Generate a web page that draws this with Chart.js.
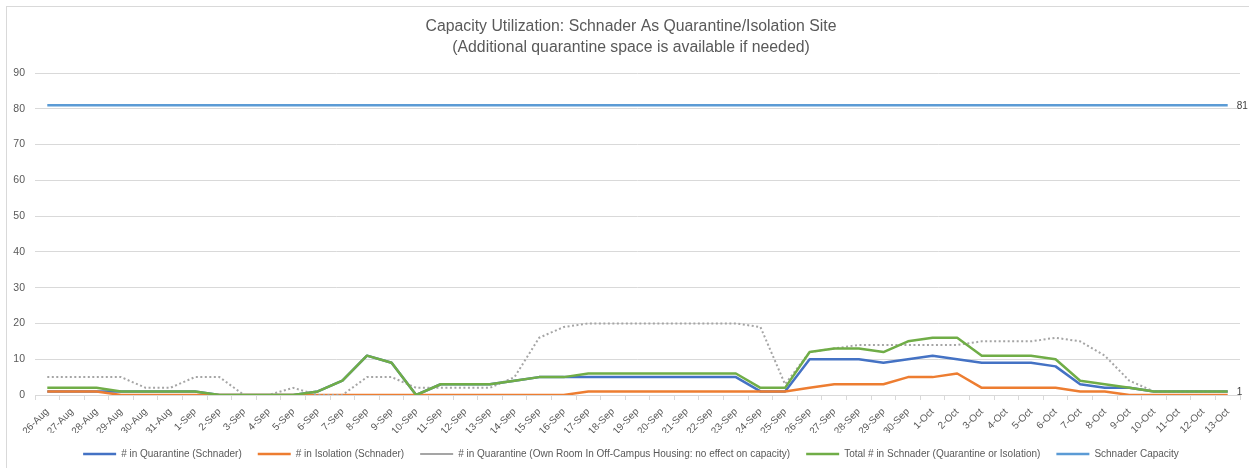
<!DOCTYPE html>
<html>
<head>
<meta charset="utf-8">
<script src="https://cdn.jsdelivr.net/npm/chart.js@4.4.0/dist/chart.umd.min.js"></script>
<style>
  body { margin: 0; background: #fff; }
  #wrap { width: 1249px; height: 468px; }
</style>
</head>
<body>
<div id="wrap"><canvas id="chart" width="1249" height="468"></canvas></div>
<script>
'use strict';

// categories (dates)
let days = [
  '26-Aug', '27-Aug', '28-Aug', '29-Aug', '30-Aug', '31-Aug',
  '1-Sep', '2-Sep', '3-Sep', '4-Sep', '5-Sep', '6-Sep', '7-Sep', '8-Sep', '9-Sep', '10-Sep',
  '11-Sep', '12-Sep', '13-Sep', '14-Sep', '15-Sep', '16-Sep', '17-Sep', '18-Sep', '19-Sep', '20-Sep',
  '21-Sep', '22-Sep', '23-Sep', '24-Sep', '25-Sep', '26-Sep', '27-Sep', '28-Sep', '29-Sep', '30-Sep',
  '1-Oct', '2-Oct', '3-Oct', '4-Oct', '5-Oct', '6-Oct', '7-Oct', '8-Oct', '9-Oct', '10-Oct',
  '11-Oct', '12-Oct', '13-Oct'
];

// series
let quarantine = [1, 1, 1, 1, 1, 1, 1, 0, 0, 0, 0, 1, 4, 11, 9, 0, 3, 3, 3, 4, 5, 5, 5, 5, 5, 5, 5, 5, 5, 1, 1, 10, 10, 10, 9, 10, 11, 10, 9, 9, 9, 8, 3, 2, 2, 1, 1, 1, 1];
let isolation = [1, 1, 1, 0, 0, 0, 0, 0, 0, 0, 0, 0, 0, 0, 0, 0, 0, 0, 0, 0, 0, 0, 1, 1, 1, 1, 1, 1, 1, 1, 1, 2, 3, 3, 3, 5, 5, 6, 2, 2, 2, 2, 1, 1, 0, 0, 0, 0, 0];
let offCampus = [5, 5, 5, 5, 2, 2, 5, 5, 0, 0, 2, 0, 0, 5, 5, 2, 2, 2, 2, 5, 16, 19, 20, 20, 20, 20, 20, 20, 20, 19, 3, 12, 13, 14, 14, 14, 14, 14, 15, 15, 15, 16, 15, 11, 4, 1, 1, 1, 1];
let total = [2, 2, 2, 1, 1, 1, 1, 0, 0, 0, 0, 1, 4, 11, 9, 0, 3, 3, 3, 4, 5, 5, 6, 6, 6, 6, 6, 6, 6, 2, 2, 12, 13, 13, 12, 15, 16, 16, 11, 11, 11, 10, 4, 3, 2, 1, 1, 1, 1];
let capacity = [81, 81, 81, 81, 81, 81, 81, 81, 81, 81, 81, 81, 81, 81, 81, 81, 81, 81, 81, 81, 81, 81, 81, 81, 81, 81, 81, 81, 81, 81, 81, 81, 81, 81, 81, 81, 81, 81, 81, 81, 81, 81, 81, 81, 81, 81, 81, 81, 81];

// axis ticks
let yMin = 0;
let yMax = 90;
let yStep = 10;

let fontFamily = "'Liberation Sans', Arial, sans-serif";
let grey = '#595959';
let gridGrey = '#d9d9d9';

// white background + thin chart frame
let framePlugin = {
  id: 'frame',
  beforeDraw(chart) {
    let ctx = chart.ctx;
    ctx.save();
    ctx.fillStyle = '#fff';
    ctx.fillRect(0, 0, chart.width, chart.height);
    ctx.strokeStyle = gridGrey;
    ctx.lineWidth = 1;
    ctx.strokeRect(6.5, 6.5, chart.width + 20, chart.height + 20);
    ctx.restore();
  }
};

// title and legend sit a little right of centre in the original
let nudgePlugin = {
  id: 'nudge',
  afterLayout(chart) {
    [chart.legend, chart.titleBlock].forEach((box) => {
      if (!box) return;
      box.left += 8;
      box.right += 8;
    });
  }
};

// value label at the last point of some series
let endLabelPlugin = {
  id: 'endLabel',
  afterDatasetsDraw(chart) {
    let ctx = chart.ctx;
    ctx.save();
    ctx.font = '10px ' + fontFamily;
    ctx.fillStyle = '#404040';
    ctx.textBaseline = 'middle';
    ctx.textAlign = 'left';
    chart.data.datasets.forEach((ds, i) => {
      if (!ds.endLabel) return;
      let meta = chart.getDatasetMeta(i);
      let last = meta.data[meta.data.length - 1];
      ctx.fillText(String(ds.data[ds.data.length - 1]), last.x + 9, last.y + 1);
    });
    ctx.restore();
  }
};

let data = {
  labels: days,
  datasets: [
    {
      label: '# in Quarantine (Schnader)',
      data: quarantine,
      borderColor: '#4472C4',
      backgroundColor: '#4472C4',
      borderWidth: 2.5,
      order: 5
    },
    {
      label: '# in Isolation (Schnader)',
      data: isolation,
      borderColor: '#ED7D31',
      backgroundColor: '#ED7D31',
      borderWidth: 2.5,
      order: 4
    },
    {
      label: '# in Quarantine (Own Room In Off-Campus Housing: no effect on capacity)',
      data: offCampus,
      borderColor: '#A5A5A5',
      backgroundColor: '#A5A5A5',
      borderWidth: 2,
      borderDash: [2, 2.5],
      order: 3
    },
    {
      label: 'Total # in Schnader (Quarantine or Isolation)',
      data: total,
      borderColor: '#70AD47',
      backgroundColor: '#70AD47',
      borderWidth: 2.5,
      endLabel: true,
      order: 2
    },
    {
      label: 'Schnader Capacity',
      data: capacity,
      borderColor: '#5B9BD5',
      backgroundColor: '#5B9BD5',
      borderWidth: 2.5,
      endLabel: true,
      order: 1
    }
  ]
};

let config = {
  type: 'line',
  data: data,
  plugins: [framePlugin, nudgePlugin, endLabelPlugin],
  options: {
    responsive: false,
    animation: false,
    layout: { padding: { left: 6, right: 9, top: 0, bottom: -1 } },
    elements: {
      point: { radius: 0, hoverRadius: 0 },
      line: { borderCapStyle: 'butt', borderJoinStyle: 'round' }
    },
    plugins: {
      tooltip: { enabled: false },
      title: {
        display: true,
        text: ['Capacity Utilization: Schnader As Quarantine/Isolation Site', '(Additional quarantine space is available if needed)'],
        color: grey,
        font: { family: fontFamily, size: 15.8, weight: 'normal', lineHeight: 1.33 },
        padding: { top: 16, bottom: 15 }
      },
      legend: {
        position: 'bottom',
        labels: {
          usePointStyle: true,
          pointStyle: 'line',
          pointStyleWidth: 33,
          padding: 16,
          color: grey,
          font: { family: fontFamily, size: 10 },
          sort: (a, b) => a.datasetIndex - b.datasetIndex
        }
      }
    },
    scales: {
      x: {
        offset: true,
        afterFit: (scale) => { scale.height = 38; },
        grid: {
          offset: true,
          drawOnChartArea: false,
          drawTicks: true,
          tickLength: 5,
          color: gridGrey
        },
        border: { display: true, color: gridGrey },
        ticks: {
          autoSkip: false,
          minRotation: 45,
          maxRotation: 45,
          padding: 6,
          color: grey,
          font: { family: fontFamily, size: 10 }
        }
      },
      y: {
        min: yMin,
        max: yMax,
        afterFit: (scale) => { scale.width = 29; },
        grid: { color: gridGrey, drawTicks: false },
        border: { display: false },
        ticks: {
          stepSize: yStep,
          padding: 10,
          color: grey,
          font: { family: fontFamily, size: 10.5 }
        }
      }
    }
  }
};

new Chart(document.getElementById('chart'), config);
</script>
</body>
</html>
